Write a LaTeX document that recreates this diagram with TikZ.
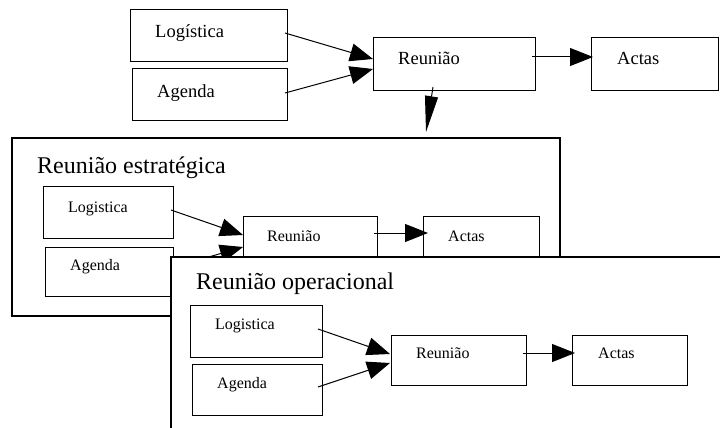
\documentclass[tikz,border=0pt]{standalone}
\usepackage{fontspec}
\setmainfont{Liberation Serif}
\usetikzlibrary{arrows.meta}
\begin{document}
\begin{tikzpicture}[x=1pt,y=-1pt,
  box/.style={draw=black,line width=1pt,fill=white,rectangle,inner sep=0pt,outer sep=0pt,anchor=north west},
  frame/.style={draw=black,line width=1.2pt,fill=white,rectangle,inner sep=0pt,outer sep=0pt,anchor=north west},
  bigtxt/.style={anchor=base west,inner sep=0pt,font=\fontsize{18.5}{20}\selectfont},
  smalltxt/.style={anchor=base west,inner sep=0pt,font=\fontsize{16}{18}\selectfont},
  titletxt/.style={anchor=base west,inner sep=0pt,font=\fontsize{24}{26}\selectfont},
  arr/.style={line width=1pt,-{Triangle[length=23pt,width=18pt]}},
  downarr/.style={line width=1pt,-{Triangle[length=36pt,width=13pt]}}]
\useasboundingbox[fill=white] (0,0) rectangle (720,428);
% ---------- top group ----------
\node[box,minimum width=157pt,minimum height=52pt] (tlog) at (130,10) {};
\node[bigtxt] (tlogt) at (155,38) {Logística};
\node[box,minimum width=155pt,minimum height=51pt] (tage) at (132,69) {};
\node[bigtxt] (taget) at (157,97) {Agenda};
\node[box,minimum width=162pt,minimum height=52pt] (treu) at (373,38) {};
\node[bigtxt] (treut) at (398,65) {Reunião};
\node[box,minimum width=127pt,minimum height=52pt] (tact) at (591,38) {};
\node[bigtxt] (tactt) at (617,65) {Actas};
\draw[arr] ([xshift=-2pt,yshift=3pt]tlog.east) -- ([yshift=5pt]treu.west);
\draw[arr] ([xshift=-2pt,yshift=1.5pt]tage.east) -- ([yshift=-5pt]treu.west);
\draw[arr] ([xshift=-3pt,yshift=7pt]treu.east) -- ([xshift=2pt,yshift=7pt]tact.west);
\coordinate (dtip) at (426,132);
\draw[downarr] ([xshift=-21pt,yshift=3pt]treu.south) -- (dtip);
% ---------- strategic ----------
\node[frame,minimum width=548pt,minimum height=178pt] (sframe) at (12,138) {};
\node[titletxt] (stitle) at (37,173) {Reunião estratégica};
\node[box,minimum width=130pt,minimum height=52pt] (slog) at (43,186) {};
\node[smalltxt] (slogt) at (68,212) {Logistica};
\node[box,minimum width=128pt,minimum height=49pt] (sage) at (45,247) {};
\node[smalltxt] (saget) at (70,270) {Agenda};
\node[box,minimum width=134pt,minimum height=52pt] (sreu) at (243,216) {};
\node[smalltxt] (sreut) at (267,241) {Reunião};
\node[box,minimum width=116pt,minimum height=52pt] (sact) at (423,216) {};
\node[smalltxt] (sactt) at (448,241) {Actas};
\draw[arr] ([xshift=-2pt,yshift=2pt]slog.east) -- ([yshift=7pt]sreu.west);
\draw[arr] ([xshift=-2pt,yshift=3.5pt]sage.east) -- ([yshift=-5pt]sreu.west);
\draw[arr] ([xshift=-3pt,yshift=9pt]sreu.east) -- ([xshift=5pt,yshift=9pt]sact.west);
% ---------- operational ----------
\node[frame,minimum width=554pt,minimum height=178pt] (oframe) at (171,257) {};
\node[titletxt] (otitle) at (196,289) {Reunião operacional};
\node[box,minimum width=132pt,minimum height=52pt] (olog) at (190,305) {};
\node[smalltxt] (ologt) at (215,329) {Logistica};
\node[box,minimum width=130pt,minimum height=51pt] (oage) at (192,364) {};
\node[smalltxt] (oaget) at (217,388) {Agenda};
\node[box,minimum width=135pt,minimum height=50pt] (oreu) at (391,335) {};
\node[smalltxt] (oreut) at (416,358) {Reunião};
\node[box,minimum width=115pt,minimum height=50pt] (oact) at (572,335) {};
\node[smalltxt] (oactt) at (598,358) {Actas};
\draw[arr] ([xshift=-4pt,yshift=2pt]olog.east) -- ([xshift=-1pt,yshift=6pt]oreu.west);
\draw[arr] ([xshift=-4pt,yshift=2.5pt]oage.east) -- ([xshift=-1pt,yshift=-3pt]oreu.west);
\draw[arr] ([xshift=-3pt,yshift=7pt]oreu.east) -- ([xshift=3pt,yshift=7pt]oact.west);
\end{tikzpicture}
\end{document}
